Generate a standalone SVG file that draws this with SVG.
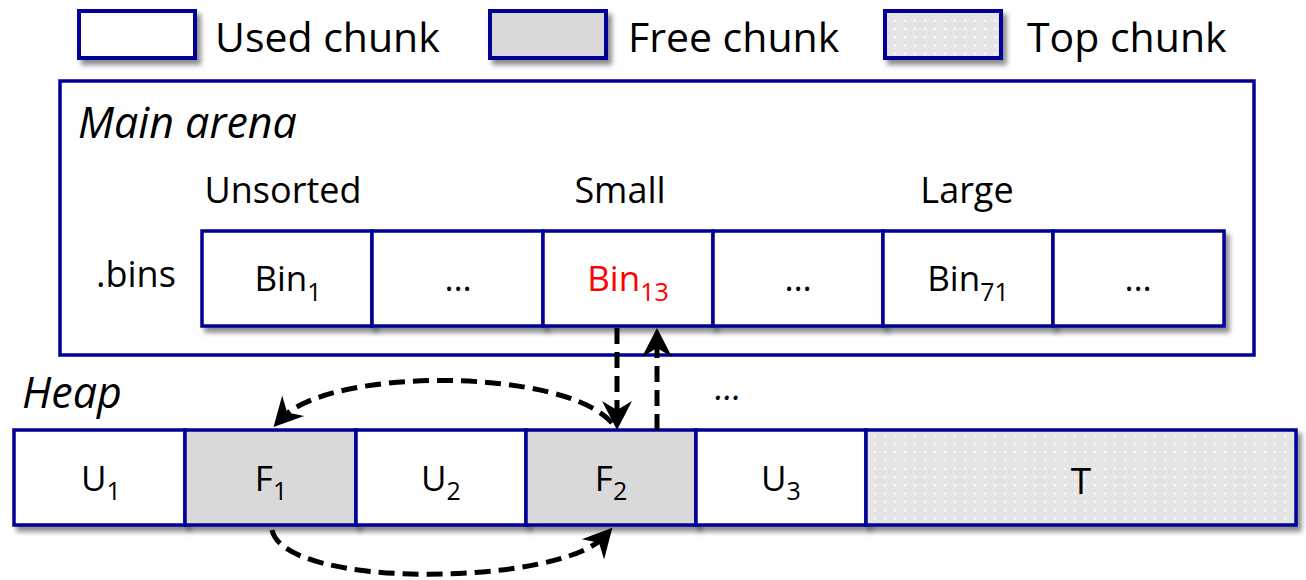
<svg xmlns="http://www.w3.org/2000/svg" width="1306" height="580" viewBox="0 0 1306 580">
<style>
text{font-family:"Open Sans","Liberation Sans",sans-serif;fill:#000}
.lg{font-size:41px}
.lb{font-size:36px}
.it{font-style:italic;font-size:43px}
.cl{font-size:35px;text-anchor:middle}
.sub{font-size:25px}
.box{stroke:#000096;stroke-width:3.5}
.lbox{stroke:#000096;stroke-width:4}
.used{fill:#fff}
.free{fill:#d9d9d9}
.top{fill:url(#dots)}
.sh{filter:url(#sh)}
.arr{fill:none;stroke:#000;stroke-width:5;stroke-dasharray:16 8;marker-end:url(#ah)}
</style>
<defs>
<pattern id="dots" width="10" height="8.3" patternUnits="userSpaceOnUse"><rect width="10" height="8.3" fill="#e5e5e5"/><rect x="4" y="3" width="2" height="2" fill="#fff"/></pattern>
<filter id="sh" x="-20%" y="-20%" width="150%" height="160%"><feDropShadow dx="4" dy="5" stdDeviation="2.5" flood-color="#000" flood-opacity="0.45"/></filter>
<marker id="ah" markerUnits="userSpaceOnUse" markerWidth="40" markerHeight="40" viewBox="-20 -20 40 40" refX="0" refY="0" orient="auto" overflow="visible"><path d="M11,0 L-18,-15 L-9,0 L-18,15 Z" fill="#000"/></marker>
</defs>

<g id="legend-used"><rect class="lbox used sh" x="79" y="11" width="116" height="47"/><text class="lg" x="215" y="52">Used chunk</text></g>
<g id="legend-free"><rect class="lbox free sh" x="490" y="11" width="116" height="47"/><text class="lg" x="628" y="52">Free chunk</text></g>
<g id="legend-top"><rect class="lbox top sh" x="885" y="11" width="116" height="47"/><text class="lg" x="1027" y="52">Top chunk</text></g>

<g id="main-arena"><rect class="box" x="60" y="81" width="1194" height="274" fill="#fff"/><text class="it" x="78" y="138">Main arena</text>
<text class="lb" x="283" y="203" text-anchor="middle">Unsorted</text>
<text class="lb" x="620" y="203" text-anchor="middle">Small</text>
<text class="lb" x="967" y="203" text-anchor="middle">Large</text>
<text class="lb" x="96" y="287">.bins</text></g>

<g id="bin1"><rect class="box used sh" x="202" y="231" width="170" height="95"/><text class="cl" x="288" y="291">Bin<tspan class="sub" dy="10">1</tspan></text></g>
<g id="bin-dots1"><rect class="box used sh" x="372" y="231" width="171" height="95"/><text class="cl" x="458" y="291">…</text></g>
<g id="bin13"><rect class="box used sh" x="543" y="231" width="170" height="95"/><text class="cl" x="628" y="291" style="fill:#f00">Bin<tspan class="sub" dy="10" style="fill:#f00">13</tspan></text></g>
<g id="bin-dots2"><rect class="box used sh" x="713" y="231" width="170" height="95"/><text class="cl" x="798" y="291">…</text></g>
<g id="bin71"><rect class="box used sh" x="883" y="231" width="170" height="95"/><text class="cl" x="968" y="291">Bin<tspan class="sub" dy="10">71</tspan></text></g>
<g id="bin-dots3"><rect class="box used sh" x="1053" y="231" width="171" height="95"/><text class="cl" x="1138" y="291">…</text></g>

<g id="heap-label"><text class="it" x="22" y="408">Heap</text><text class="it" x="715" y="400" style="font-size:35px">…</text></g>

<g id="u1"><rect class="box used sh" x="14" y="430" width="171" height="95"/><text class="cl" x="101" y="491">U<tspan class="sub" dy="9">1</tspan></text></g>
<g id="f1"><rect class="box free sh" x="185" y="430" width="171" height="95"/><text class="cl" x="271" y="491">F<tspan class="sub" dy="9">1</tspan></text></g>
<g id="u2"><rect class="box used sh" x="356" y="430" width="170" height="95"/><text class="cl" x="441" y="491">U<tspan class="sub" dy="9">2</tspan></text></g>
<g id="f2"><rect class="box free sh" x="526" y="430" width="170" height="95"/><text class="cl" x="611" y="491">F<tspan class="sub" dy="9">2</tspan></text></g>
<g id="u3"><rect class="box used sh" x="696" y="430" width="170" height="95"/><text class="cl" x="781" y="491">U<tspan class="sub" dy="9">3</tspan></text></g>
<g id="top"><rect class="box top sh" x="866" y="430" width="430" height="95"/><text class="cl" x="1081" y="494" style="font-size:37px">T</text></g>

<g id="connectors">
<path class="arr" d="M617,328 L617,419"/>
<path class="arr" d="M657,430 L657,339"/>
<path class="arr" d="M612,423 C565,368 330,366 281,419"/>
<path class="arr" d="M272,530 C285,590 560,586 605,536"/>
</g>
</svg>
